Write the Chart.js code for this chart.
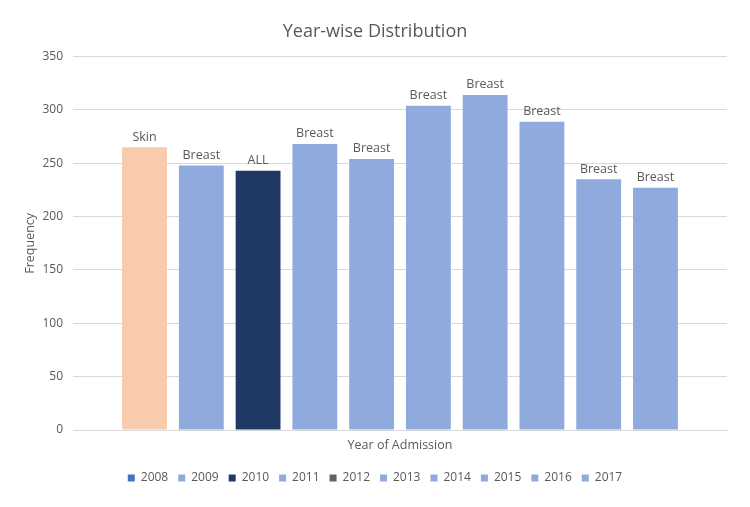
<!DOCTYPE html>
<html>
<head>
<meta charset="utf-8">
<script src="https://cdn.jsdelivr.net/npm/chart.js@4/dist/chart.umd.min.js"></script>
<style>
  html, body { margin: 0; padding: 0; background: #fff; }
  #wrap { width: 750px; height: 507px; }
</style>
</head>
<body>
<div id="wrap"><canvas id="myChart"></canvas></div>
<script>
// data
var years = ["2008", "2009", "2010", "2011", "2012", "2013", "2014", "2015", "2016", "2017"];
var frequency = [265, 248, 243, 268, 254, 304, 314, 289, 235, 227];
var topCancer = ["Skin", "Breast", "ALL", "Breast", "Breast", "Breast", "Breast", "Breast", "Breast", "Breast"];
var yTicks = [0, 50, 100, 150, 200, 250, 300, 350];

var barColors = ["#f8cbad", "#8faadc", "#203864", "#8faadc", "#8faadc", "#8faadc", "#8faadc", "#8faadc", "#8faadc", "#8faadc"];
var legendColors = ["#4472c4", "#8faadc", "#203864", "#8faadc", "#636363", "#8faadc", "#8faadc", "#8faadc", "#8faadc", "#8faadc"];

var textGray = "#595959";
var fontName = "'Open Sans', sans-serif";

var datasets = years.map(function (yr, i) {
  return {
    label: yr,
    data: [frequency[i]],
    backgroundColor: barColors[i],
    categoryPercentage: 0.868,
    barPercentage: 0.79
  };
});

// label above every bar
var barLabels = {
  id: "barLabels",
  afterDatasetsDraw: function (chart) {
    var ctx = chart.ctx;
    ctx.save();
    ctx.fillStyle = textGray;
    ctx.font = "12.5px " + fontName;
    ctx.textAlign = "center";
    ctx.textBaseline = "bottom";
    chart.data.datasets.forEach(function (ds, i) {
      var bar = chart.getDatasetMeta(i).data[0];
      ctx.fillText(topCancer[i], bar.x, bar.y - 4);
    });
    ctx.restore();
  }
};

new Chart("myChart", {
  type: "bar",
  data: {
    labels: [""],
    datasets: datasets
  },
  options: {
    responsive: true,
    maintainAspectRatio: false,
    animation: false,
    layout: { padding: { left: 23, right: 23, top: 8, bottom: 13 } },
    plugins: {
      title: {
        display: true,
        text: "Year-wise Distribution",
        color: textGray,
        font: { family: fontName, size: 18, weight: "normal" },
        padding: { top: 13, bottom: 14 }
      },
      legend: {
        position: "bottom",
        labels: {
          color: textGray,
          font: { family: fontName, size: 12 },
          boxWidth: 7,
          boxHeight: 7,
          padding: 10,
          generateLabels: function (chart) {
            return years.map(function (yr, i) {
              return {
                text: yr,
                fillStyle: legendColors[i],
                strokeStyle: legendColors[i],
                lineWidth: 0,
                fontColor: textGray,
                datasetIndex: i
              };
            });
          }
        }
      },
      tooltip: { enabled: false }
    },
    scales: {
      x: {
        grid: { display: false },
        border: { color: "#d9d9d9" },
        ticks: { display: false },
        title: {
          display: true,
          text: "Year of Admission",
          color: textGray,
          font: { family: fontName, size: 12.5 },
          padding: { top: 0, bottom: 9 }
        }
      },
      y: {
        min: 0,
        max: 350,
        afterBuildTicks: function (scale) {
          scale.ticks = yTicks.map(function (v) { return { value: v }; });
        },
        afterFit: function (scale) { scale.width = 50; },
        grid: { color: "#d9d9d9", drawTicks: false },
        border: { display: false },
        ticks: {
          color: textGray,
          font: { family: fontName, size: 12 },
          padding: 10
        },
        title: {
          display: true,
          text: "Frequency",
          color: textGray,
          font: { family: fontName, size: 12.5 },
          padding: { top: 0, bottom: 2 }
        }
      }
    }
  },
  plugins: [barLabels]
});
</script>
</body>
</html>
